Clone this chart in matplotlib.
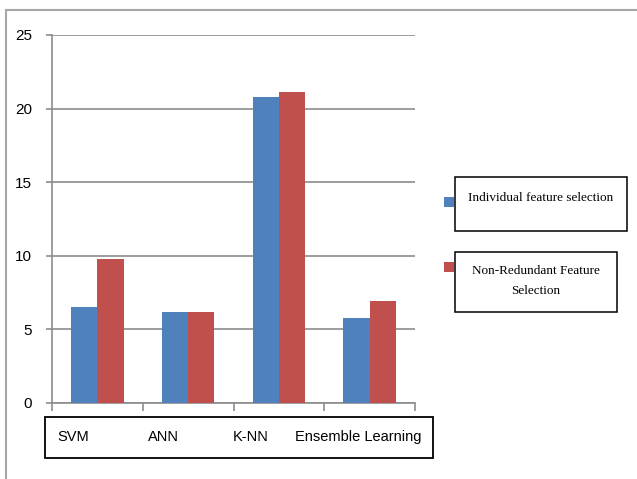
import matplotlib
matplotlib.use("Agg")
import matplotlib.pyplot as plt
import matplotlib.patches as mpatches
import numpy as np

# Classifier results for the two feature selection strategies
categories = ["SVM", "ANN", "K-NN", "Ensemble Learning"]
individual = [6.5, 6.2, 20.8, 5.8]
non_redundant = [9.8, 6.2, 21.1, 6.9]
y_ticks = [0, 5, 10, 15, 20, 25]
series_labels = ["Individual feature selection", "Non-Redundant Feature\nSelection"]

BLUE = "#4F81BD"
RED = "#C0504D"
GRID = "#8c8c8c"
FRAME = "#a6a6a6"

W, H = 637, 479


def px(x, y):
    """Pixel position (from top-left) to figure fraction."""
    return x / W, 1 - y / H


fig = plt.figure(figsize=(W / 100, H / 100), dpi=100)
fig.patch.set_facecolor("white")

sans = ["Liberation Sans Narrow", "Liberation Sans", "DejaVu Sans"]
serif = ["Liberation Serif", "DejaVu Serif"]

# plot area
x0, y0 = px(52, 403)
x1, y1 = px(415, 35)
ax = fig.add_axes([x0, y0, x1 - x0, y1 - y0])

centers = np.arange(len(categories)) + 0.5
bw = 0.29
ax.bar(centers - bw / 2, individual, bw, color=BLUE, zorder=3)
ax.bar(centers + bw / 2, non_redundant, bw, color=RED, zorder=3)

ax.set_xlim(0, len(categories))
ax.set_ylim(0, 25)
ax.set_yticks(y_ticks)
ax.set_yticklabels([str(v) for v in y_ticks], family=sans, fontsize=11)
ax.set_xticks(np.arange(len(categories) + 1))
ax.set_xticklabels([])
ax.yaxis.grid(True, color=GRID, lw=1.2, zorder=0)
ax.tick_params(axis="y", length=4.5, width=1.2, color=GRID, pad=10)
ax.tick_params(axis="x", length=6, width=1.2, color=GRID)
for s in ["top", "right"]:
    ax.spines[s].set_visible(False)
for s in ["left", "bottom"]:
    ax.spines[s].set_color(GRID)
    ax.spines[s].set_linewidth(1.2)

# category names inside a framed box under the axis
bx0, by0 = px(45, 458)
bx1, by1 = px(433, 417)
fig.patches.append(mpatches.Rectangle((bx0, by0), bx1 - bx0, by1 - by0,
                                      transform=fig.transFigure, fill=False,
                                      edgecolor="black", lw=1.3))
label_x = [57, 148, 233, 295]
for name, lx in zip(categories, label_x):
    fx, fy = px(lx, 437)
    fig.text(fx, fy, name, ha="left", va="center", family=sans, fontsize=10.5)

# legend: colour squares with separately boxed labels
legend_items = [
    (BLUE, (444, 197), (455, 177, 627, 231), (541, 198)),
    (RED, (444, 262), (455, 252, 617, 312), (536, 281)),
]
for (color, sq, box, txt), label in zip(legend_items, series_labels):
    sx, sy = px(sq[0], sq[1] + 10)
    fig.patches.append(mpatches.Rectangle((sx, sy), 10 / W, 10 / H,
                                          transform=fig.transFigure,
                                          facecolor=color, edgecolor="none"))
    lx0, ly0 = px(box[0], box[3])
    lx1, ly1 = px(box[2], box[1])
    fig.patches.append(mpatches.Rectangle((lx0, ly0), lx1 - lx0, ly1 - ly0,
                                          transform=fig.transFigure, fill=False,
                                          edgecolor="black", lw=1.1))
    tx, ty = px(*txt)
    fig.text(tx, ty, label, ha="center", va="center", family=serif,
             fontsize=9.5, linespacing=1.9)

# outer frame: only top and left edges show
fig.add_artist(plt.Line2D([6 / W, 1], [1 - 10 / H] * 2, color=FRAME, lw=1.5,
                          transform=fig.transFigure))
fig.add_artist(plt.Line2D([6 / W] * 2, [0, 1 - 10 / H], color=FRAME, lw=1.5,
                          transform=fig.transFigure))

fig.savefig("out.png", dpi=100)
